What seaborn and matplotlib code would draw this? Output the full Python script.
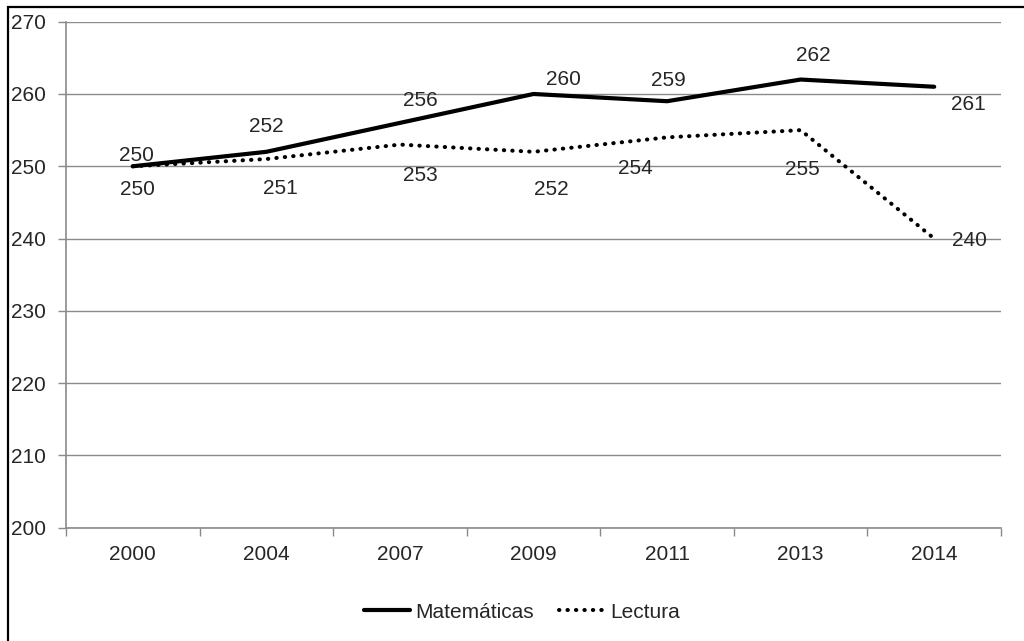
import matplotlib
matplotlib.use("Agg")
import matplotlib.pyplot as plt
from matplotlib.patches import Rectangle
from matplotlib.ticker import FixedLocator
import seaborn as sns
import pandas as pd

# Resultados por año
years = ["2000", "2004", "2007", "2009", "2011", "2013", "2014"]
matematicas = [250, 252, 256, 260, 259, 262, 261]
lectura = [250, 251, 253, 252, 254, 255, 240]
y_ticks = [200, 210, 220, 230, 240, 250, 260, 270]

# Desplazamiento de cada etiqueta respecto a su punto (en píxeles)
mat_label_offsets = [(4, 11), (0, 25), (20, 22), (30, 14), (1, 21), (13, 24), (34, -18)]
lec_label_offsets = [(5, -23), (14, -29), (20, -31), (18, -38), (-32, -31), (2, -39), (35, -2)]

sns.set_style("white")
plt.rcParams["font.family"] = ["Liberation Sans", "DejaVu Sans"]
FS = 15
GRID = "#8a8a8a"

df = pd.DataFrame({
    "pos": list(range(len(years))) * 2,
    "valor": matematicas + lectura,
    "serie": ["Matemáticas"] * len(years) + ["Lectura"] * len(years),
})

fig = plt.figure(figsize=(10.24, 6.41), dpi=100)
ax = fig.add_axes([66 / 1024, 1 - 527.7 / 641, (1001 - 66) / 1024, (527.7 - 21.7) / 641])

sns.lineplot(data=df[df.serie == "Matemáticas"], x="pos", y="valor", ax=ax,
             color="black", linewidth=3.0, label="Matemáticas", legend=False)
sns.lineplot(data=df[df.serie == "Lectura"], x="pos", y="valor", ax=ax,
             color="black", linewidth=2.9, label="Lectura", legend=False,
             dashes=False)
dotted = ax.lines[1]
dotted.set_linestyle((0, (0.1, 2.0)))
dotted.set_dash_capstyle("round")

ax.set_xlim(-0.5, len(years) - 0.5)
ax.set_ylim(200, 270)
ax.set_yticks(y_ticks)
ax.set_yticklabels([str(t) for t in y_ticks], fontsize=FS)
ax.set_xticks(range(len(years)))
ax.set_xticklabels(years, fontsize=FS)
ax.xaxis.set_minor_locator(FixedLocator([i - 0.5 for i in range(len(years) + 1)]))
ax.tick_params(axis="x", which="major", length=0, pad=12.5)
ax.tick_params(axis="x", which="minor", length=6, width=1, color=GRID, direction="out", bottom=True)
ax.tick_params(axis="y", which="major", length=6, width=1, color=GRID, direction="out", pad=8.5, left=True)
ax.set_xlabel("")
ax.set_ylabel("")

ax.grid(axis="y", color=GRID, linewidth=1)
ax.grid(axis="x", visible=False)
ax.set_axisbelow(True)
for side in ["top", "right"]:
    ax.spines[side].set_visible(False)
for side in ["left", "bottom"]:
    ax.spines[side].set_color(GRID)
    ax.spines[side].set_linewidth(1.2)

px = 72 / 100
for i, v in enumerate(matematicas):
    dx, dy = mat_label_offsets[i]
    ax.annotate(str(v), (i, v), xytext=(dx * px, dy * px), textcoords="offset points",
                ha="center", va="center", fontsize=FS)
for i, v in enumerate(lectura):
    dx, dy = lec_label_offsets[i]
    ax.annotate(str(v), (i, v), xytext=(dx * px, dy * px), textcoords="offset points",
                ha="center", va="center", fontsize=FS)

handles = ax.lines[:2]
fig.legend(handles, ["Matemáticas", "Lectura"], loc="center",
           bbox_to_anchor=(522 / 1024, 1 - 612 / 641), ncol=2, frameon=False,
           fontsize=FS, handlelength=2.2, handletextpad=0.25, columnspacing=1.2)

# Marco exterior del gráfico
fig.add_artist(Rectangle((7.5 / 1024, -0.05), 1.1, 1 - 7.5 / 641 + 0.05,
                         transform=fig.transFigure, fill=False, edgecolor="black",
                         linewidth=1.6, clip_on=False))

fig.savefig("out.png", dpi=100)
